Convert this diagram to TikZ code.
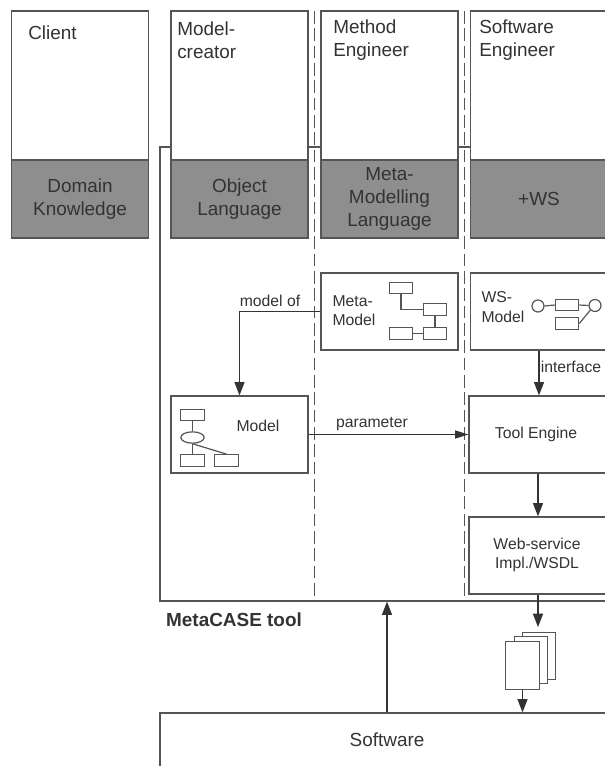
\documentclass[tikz,border=0pt]{standalone}
\usepackage{fontspec}
\setmainfont{Liberation Sans}
\usepackage{xcolor}
\usetikzlibrary{arrows.meta,positioning,calc,shapes.geometric}
\definecolor{linegray}{HTML}{555555}
\definecolor{lanegray}{HTML}{8E8E8E}
\definecolor{textgray}{HTML}{333333}
\tikzset{
  lanetop/.style={draw=linegray,fill=white,line width=0.8pt,minimum width=102.75pt,minimum height=111.75pt,inner sep=0pt},
  lanefoot/.style={draw=linegray,fill=lanegray,line width=0.8pt,minimum width=102.75pt,minimum height=58.5pt,inner sep=0pt,align=center,font=\fontsize{14.2}{17.2}\selectfont,text=textgray},
  workbox/.style={draw=linegray,fill=white,line width=0.9pt,minimum width=102.75pt,minimum height=57.75pt,inner sep=0pt,align=center,font=\fontsize{11.8}{14.4}\selectfont,text=textgray},
  heading/.style={anchor=west,inner sep=0pt,align=left,font=\fontsize{14.2}{17.2}\selectfont,text=textgray},
  caption/.style={inner sep=0pt,align=left,font=\fontsize{11.8}{14.4}\selectfont,text=textgray},
  glyph/.style={draw=linegray,fill=white,line width=0.9pt,minimum width=17.5pt,minimum height=8.7pt,inner sep=0pt},
  glyphline/.style={draw=linegray,line width=0.9pt},
  flow/.style={draw=textgray,line width=1pt,-{Triangle[length=10pt,width=7.5pt]}},
  lanesplit/.style={draw=linegray,line width=0.9pt,dash pattern=on 9.5pt off 3.5pt},
  docsheet/.style={draw=linegray,fill=white,line width=0.9pt,minimum width=25pt,minimum height=35.5pt,inner sep=0pt}
}
\begin{document}
\begin{tikzpicture}[x=0.75pt,y=-0.75pt,>=Latex]
\useasboundingbox (0,0) rectangle (605,766);
\clip (0,0) rectangle (605,766);
% tool frame and swimlane separators
\node[draw=linegray,line width=0.9pt,minimum width=360pt,minimum height=340.5pt,inner sep=0pt] (metacase) at (400,374) {};
\coordinate (splita) at (314.5,11);
\coordinate (splitb) at (464.5,11);
\draw[lanesplit] (splita) -- (splita |- metacase.south);
\draw[lanesplit] (splitb) -- (splitb |- metacase.south);
% lanes
\node[lanetop] (client) at (80,85.5) {};
\node[lanefoot] (domain) at (80,199) {Domain\\Knowledge};
\node[lanetop] (creator) at (239.5,85.5) {};
\node[lanefoot] (object) at (239.5,199) {Object\\Language};
\node[lanetop] (method) at (389.5,85.5) {};
\node[lanefoot] (metalang) at (389.5,199) {Meta-\\Modelling\\Language};
\node[lanetop] (engineer) at (539,85.5) {};
\node[lanefoot] (plusws) at (539,199) {+WS};
\node[heading] (clienttext) at (28,33) {Client};
\node[heading] (creatortext) at (177,40) {Model-\\creator};
\node[heading] (methodtext) at (333,40) {Method\\Engineer};
\node[heading] (engineertext) at (479,40) {Software\\Engineer};
% work products
\node[workbox] (metamodel) at (389.5,311.5) {};
\node[workbox] (wsmodel) at (539,311.5) {};
\node[workbox] (model) at (239.5,434.5) {};
\node[workbox,minimum width=103.5pt] (toolengine) at (538,434.5) {};
\node[workbox,minimum width=103.5pt] (webservice) at (538,555.5) {};
\node[caption] (metatext) at (354,311) {Meta-\\Model};
\node[caption] (wstext) at (503,307) {WS-\\Model};
\node[caption] (modeltext) at (258,426) {Model};
\node[caption] (tooltext) at (536,434) {Tool Engine};
\node[caption,align=center] (webtext) at (537,555) {Web-service\\Impl./WSDL};
% meta-model glyph
\node[glyph] (ma) at (401,288) {};
\node[glyph] (mb) at (435,309.5) {};
\node[glyph] (mc) at (401,333.5) {};
\node[glyph] (md) at (435,333.5) {};
\draw[glyphline] (ma.south) |- (mb.west);
\draw[glyphline] (mb.south) -- (md.north);
\draw[glyphline] (mc.east) -- (md.west);
% ws-model glyph
\node[circle,glyph,minimum width=9pt,minimum height=9pt] (wa) at (538,306) {};
\node[glyph] (wb) at (567,305) {};
\node[circle,glyph,minimum width=9pt,minimum height=9pt] (wc) at (595,305.5) {};
\node[glyph] (wd) at (567,323.5) {};
\draw[glyphline] (wa.east) -- (wb.west);
\draw[glyphline] (wb.east) -- (wc.west);
\draw[glyphline] (wd.east) -- (wc.south west);
% model glyph
\node[glyph] (ga) at (192.5,415) {};
\node[glyph,ellipse,minimum width=17.5pt,minimum height=8.5pt] (gb) at (192.5,437.5) {};
\node[glyph] (gc) at (192.5,460.5) {};
\node[glyph] (gd) at (226.5,460.5) {};
\draw[glyphline] (ga.south) -- (gb.north);
\draw[glyphline] (gb.south) -- (gc.north);
\draw[glyphline] (gb.south) -- (gd.north);
% generated documents
\node[docsheet] (docback) at (539,656) {};
\node[docsheet] (docmid) at (531,660) {};
\node[docsheet] (docfront) at (522.5,665.5) {};
% software
\node[draw=linegray,fill=white,line width=0.9pt,minimum width=340.5pt,minimum height=60pt,inner sep=0pt] (software) at (387,753) {};
\node[caption,font=\fontsize{14.2}{17.2}\selectfont] (softtext) at (387,740) {Software};
\node[caption,font=\fontsize{14.2}{17.2}\selectfont\bfseries] (metacasetext) at (234,620) {MetaCASE tool};
% connectors
\draw[flow] (metamodel.west) -| (model.north);
\node[caption] (modeloftext) at (270,301) {model of};
\draw[flow,-{Triangle[length=10pt,width=6pt]}] (model.east) -- (toolengine.west);
\node[caption] (paramtext) at (372,424) {parameter};
\draw[flow] (wsmodel.south) -- (wsmodel.south |- toolengine.north);
\node[caption] (interfacetext) at (571,367) {interface};
\draw[flow] (toolengine.south) -- (webservice.north);
\draw[flow,shorten >=3.5pt] (webservice.south) -- (webservice.south |- docback.north);
\draw[flow] (docfront.south) -- (docfront.south |- software.north);
\draw[flow] (software.north) -- (software.north |- metacase.south);
\end{tikzpicture}
\end{document}
